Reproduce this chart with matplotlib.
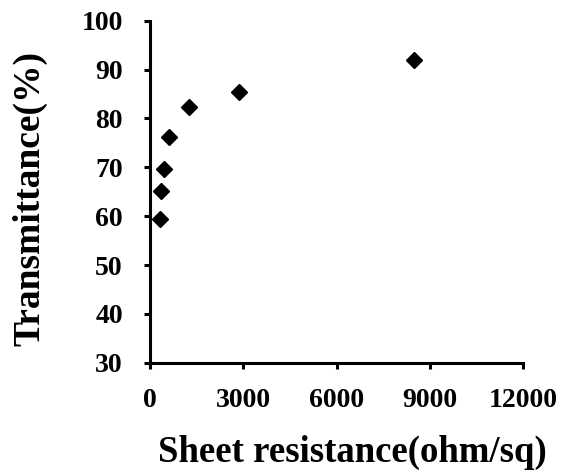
import matplotlib
matplotlib.use("Agg")
import matplotlib.pyplot as plt

sheet_resistance = [320, 354, 450, 620, 1244, 2871, 8498]
transmittance = [59.5, 65.1, 69.7, 76.3, 82.4, 85.4, 92.0]
x_ticks = [0, 3000, 6000, 9000, 12000]
y_ticks = [30, 40, 50, 60, 70, 80, 90, 100]

plt.rcParams['font.family'] = ['Liberation Serif', 'DejaVu Serif']
plt.rcParams['font.weight'] = 'bold'

fig = plt.figure(figsize=(5.65, 4.73), dpi=100)
ax = fig.add_axes([0.2655, 0.2332, 0.9262 - 0.2655, 0.956 - 0.2332])

ax.plot(sheet_resistance, transmittance, linestyle='none', marker='D',
        markersize=8.5, color='black')

ax.set_xlim(0, 12000)
ax.set_ylim(30, 100)
ax.set_xticks(x_ticks)
ax.set_yticks(y_ticks)
ax.set_xticklabels([str(v) for v in x_ticks], fontsize=20, fontweight='bold')
ax.set_yticklabels([str(v) for v in y_ticks], fontsize=20, fontweight='bold')

for s in ['top', 'right']:
    ax.spines[s].set_visible(False)
for s in ['left', 'bottom']:
    ax.spines[s].set_linewidth(2.2)
ax.tick_params(axis='x', direction='out', length=4.5, width=2.2, pad=13.5)
ax.tick_params(axis='y', direction='out', length=4.5, width=2.2, pad=15)

fig.text(352 / 565, 1 - 452 / 473, 'Sheet resistance(ohm/sq)', fontsize=26.5,
         fontweight='bold', ha='center', va='center')
fig.text(30 / 565, 1 - 199 / 473, 'Transmittance(%)', fontsize=27,
         fontweight='bold', ha='center', va='center', rotation=90)

fig.savefig('out.png', dpi=100)
